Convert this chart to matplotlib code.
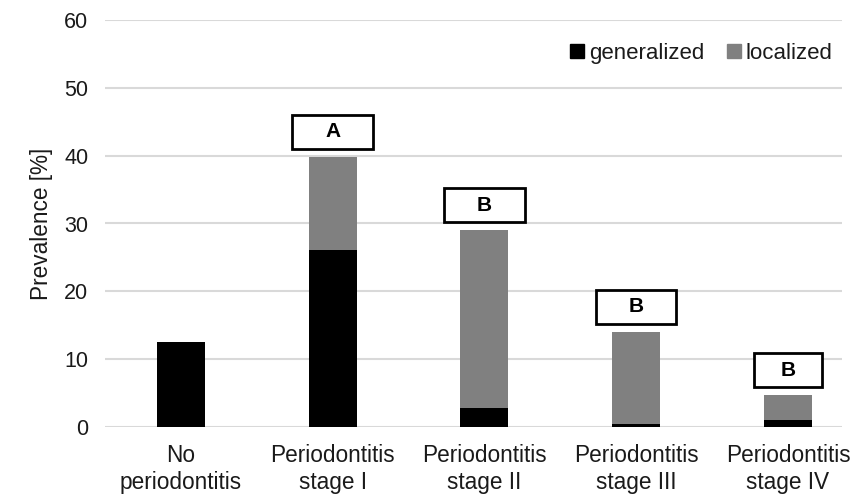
import matplotlib
matplotlib.use("Agg")
import matplotlib.pyplot as plt
from matplotlib.patches import Patch, Rectangle
import numpy as np

plt.rcParams['font.family'] = ['Liberation Sans', 'DejaVu Sans']

categories = ["No\nperiodontitis", "Periodontitis\nstage I", "Periodontitis\nstage II",
              "Periodontitis\nstage III", "Periodontitis\nstage IV"]
generalized = [12.5, 26.1, 2.8, 0.5, 1.0]
localized = [0.0, 13.7, 26.2, 13.5, 3.7]
letters = [None, "A", "B", "B", "B"]
yticks = [0, 10, 20, 30, 40, 50, 60]

W, H = 856, 494
fig = plt.figure(figsize=(W / 100, H / 100), dpi=100)
ax = fig.add_axes([105 / W, (H - 427) / H, (842 - 105) / W, (427 - 20) / H])

x = np.arange(len(categories))
bw = 0.316
ax.bar(x, generalized, bw, color='#000000', zorder=3, label='generalized')
ax.bar(x, localized, bw, bottom=generalized, color='#808080', zorder=3, label='localized')

txt = '#1a1a1a'
ax.set_xlim(-0.5, 4.356)
ax.set_ylim(0, 60)
ax.set_yticks(yticks)
ax.set_yticklabels([str(v) for v in yticks], fontsize=15.5, color=txt)
ax.set_xticks(x)
ax.set_xticklabels(categories, fontsize=16.3, color=txt, linespacing=1.25)
ax.tick_params(axis='both', length=0)
ax.tick_params(axis='x', pad=12)
ax.tick_params(axis='y', pad=12)
ax.grid(axis='y', color='#d9d9d9', linewidth=1.5, zorder=0)
for s in ax.spines.values():
    s.set_visible(False)
ax.set_ylabel("Prevalence [%]", fontsize=16.3, color=txt, labelpad=8)

# letter boxes
box_w = [0, 0.53, 0.53, 0.53, 0.45]
box_h = 5.0
gap = 1.2
for i, L in enumerate(letters):
    if L is None:
        continue
    top = generalized[i] + localized[i]
    y0 = top + gap
    ax.add_patch(Rectangle((x[i] - box_w[i] / 2, y0), box_w[i], box_h,
                           facecolor='white', edgecolor='black', linewidth=2, zorder=4,
                           clip_on=False))
    ax.text(x[i], y0 + box_h / 2, L, ha='center', va='center', fontsize=15,
            fontweight='bold', zorder=5)

handles = [Patch(color='#000000'), Patch(color='#808080')]
ax.legend(handles, ['generalized', 'localized'], ncol=2, frameon=False, fontsize=16,
          labelcolor=txt,
          handlelength=0.6, handleheight=0.6, handletextpad=0.22, columnspacing=1.05,
          loc='upper right', bbox_to_anchor=(0.999, 0.965), borderaxespad=0)

fig.savefig("out.png", dpi=100)
